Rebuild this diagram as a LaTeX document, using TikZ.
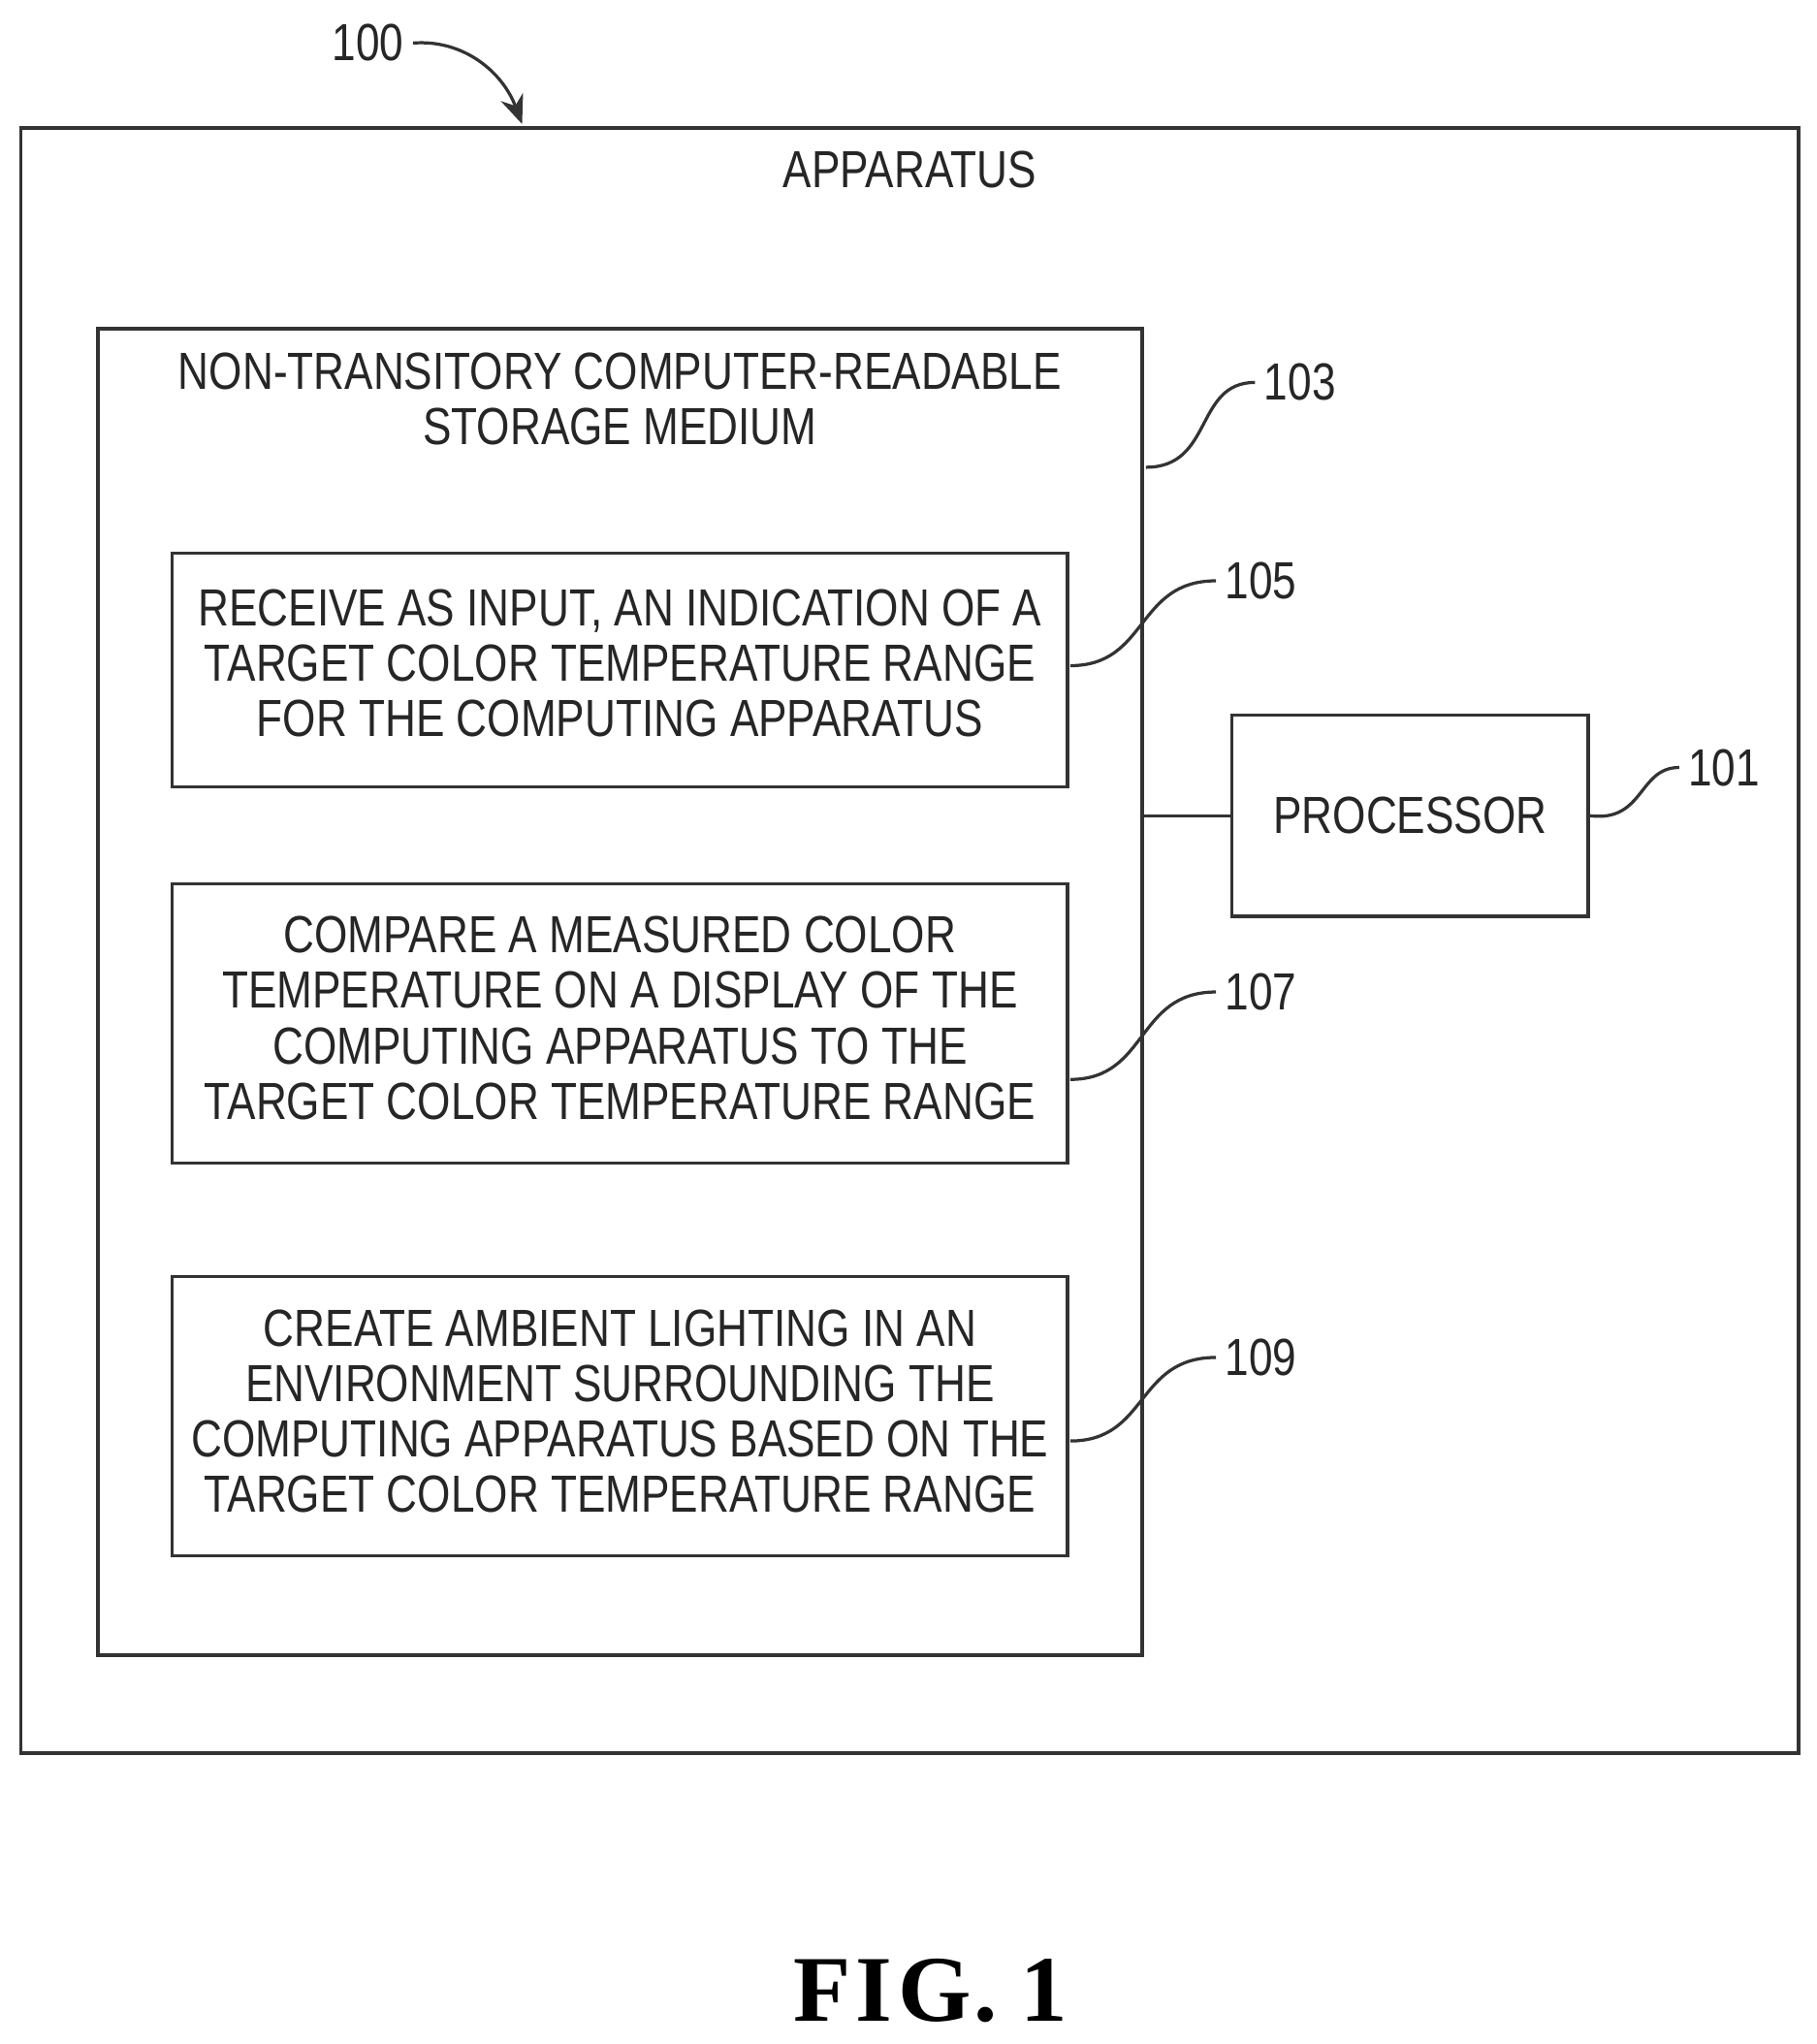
\documentclass[tikz,border=0pt]{standalone}
\usepackage{fontspec}
\setmainfont{Liberation Sans}
\newfontfamily\cond[FakeStretch=0.82]{Liberation Sans}
\newfontfamily\figf{Liberation Serif}
\usetikzlibrary{arrows.meta}
\begin{document}
\begin{tikzpicture}[x=0.5pt,y=-0.5pt,
  box/.style={draw=black!80,line width=1.3pt},
  txt/.style={font=\cond\fontsize{20}{21.2}\selectfont,align=center,text=black!85},
  lab/.style={font=\cond\fontsize{20}{21}\selectfont,text=black!85},
  lead/.style={draw=black!80,line width=1.2pt}]
\useasboundingbox (0,0) rectangle (1392,1566);
\fill[white] (0,0) rectangle (1392,1566);
\draw[box] (16,98) rectangle (1378,1343);
\node[txt] (app) at (697,130) {APPARATUS};
\draw[box] (75,252) rectangle (875,1268);
\coordinate (medR) at (875,625);
\node[txt] (medt) at (475,306) {NON-TRANSITORY COMPUTER-READABLE\\STORAGE MEDIUM};
\draw[box] (132,424) rectangle (818,603);
\node[txt] (t105) at (475,508) {RECEIVE AS INPUT, AN INDICATION OF A\\TARGET COLOR TEMPERATURE RANGE\\FOR THE COMPUTING APPARATUS};
\draw[box] (132,677) rectangle (818,891);
\node[txt] (t107) at (475,780) {COMPARE A MEASURED COLOR\\TEMPERATURE ON A DISPLAY OF THE\\COMPUTING APPARATUS TO THE\\TARGET COLOR TEMPERATURE RANGE};
\draw[box] (132,978) rectangle (818,1192);
\node[txt] (t109) at (475,1081) {CREATE AMBIENT LIGHTING IN AN\\ENVIRONMENT SURROUNDING THE\\COMPUTING APPARATUS BASED ON THE\\TARGET COLOR TEMPERATURE RANGE};
\node[box,minimum width=136.5pt,minimum height=77pt,txt] (proc) at (1080.5,625) {PROCESSOR};
\draw[lead] (medR) -- (proc.west);
% labels
\node[lab] (l100) at (282,33) {100};
\draw[lead,-{Stealth[length=11pt,width=9pt]}] (l100.east) .. controls (355,30) and (385,55) .. (400,95);
\node[lab] (l103) at (996,293) {103};
\draw[lead] (878,358) .. controls (930,358) and (915,293) .. (l103.west);
\node[lab] (l105) at (966,445) {105};
\draw[lead] (820,510) .. controls (880,510) and (870,445) .. (l105.west);
\node[lab] (l107) at (966,760) {107};
\draw[lead] (820,827) .. controls (880,827) and (870,760) .. (l107.west);
\node[lab] (l109) at (966,1040) {109};
\draw[lead] (820,1104) .. controls (880,1104) and (870,1040) .. (l109.west);
\node[lab] (l101) at (1321,588) {101};
\draw[lead] (proc.east) .. controls (1260,630) and (1255,588) .. (l101.west);
\node[font=\figf\bfseries\fontsize{36}{40}\selectfont] (fig) at (713,1525) {F\kern2pt I\kern2pt G\kern1pt.~1};
\end{tikzpicture}
\end{document}
